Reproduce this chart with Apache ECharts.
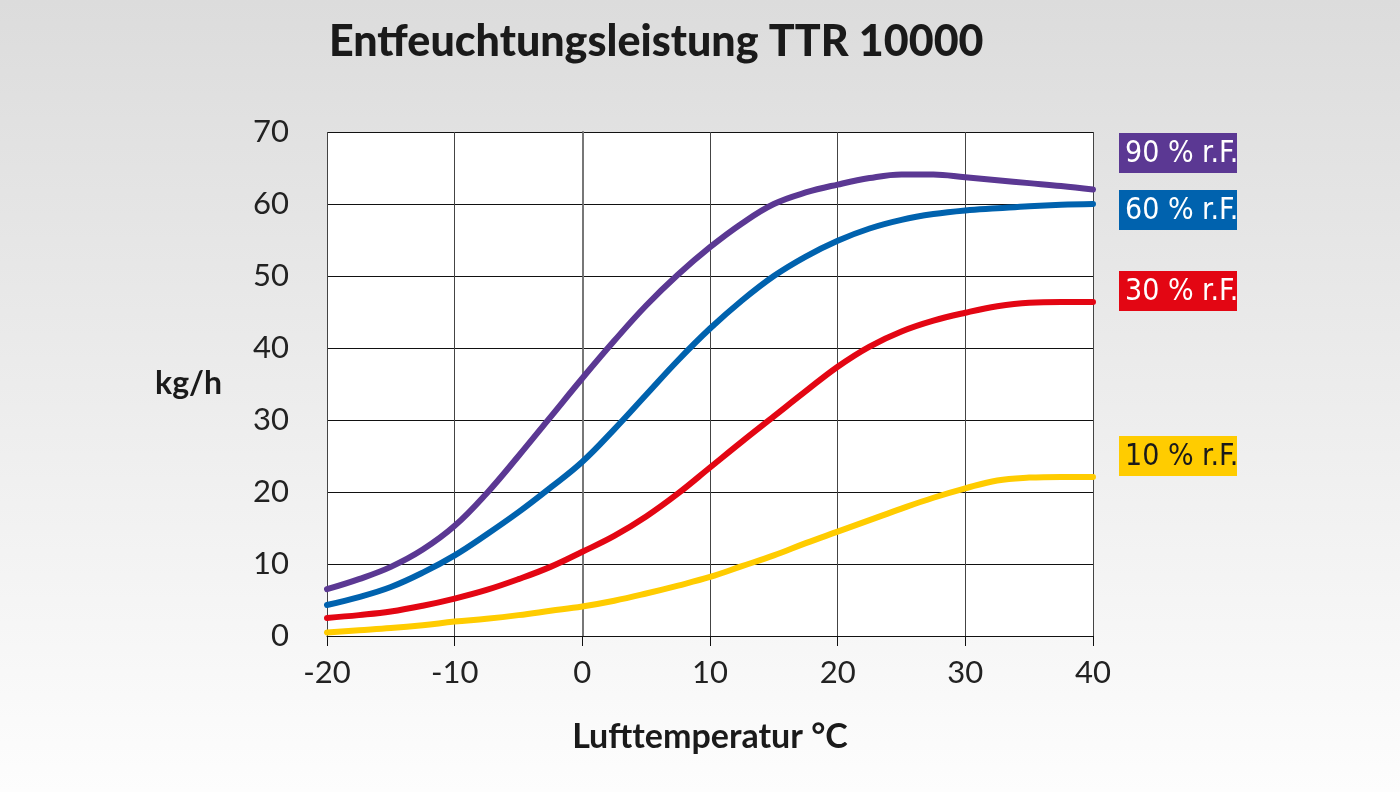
<!DOCTYPE html>
<html>
<head>
<meta charset="utf-8">
<title>Entfeuchtungsleistung TTR 10000</title>
<script src="https://cdn.jsdelivr.net/npm/echarts@6/dist/echarts.min.js"></script>
<style>
  html, body { margin: 0; padding: 0; }
  #chart { width: 1400px; height: 792px; }
</style>
</head>
<body>
<div id="chart"></div>
<script>
// Lufttemperatur in °C (Stützstellen alle 2,5 °C)
var temps = [-20, -17.5, -15, -12.5, -10, -7.5, -5, -2.5, 0, 2.5, 5, 7.5, 10,
             12.5, 15, 17.5, 20, 22.5, 25, 27.5, 30, 32.5, 35, 37.5, 40];

// Entfeuchtungsleistung in kg/h je relativer Feuchte
var rh90 = [6.5, 7.9, 9.6, 12.0, 15.3, 19.8, 25.0, 30.4, 35.8, 41.0, 45.9, 50.2, 54.0,
            57.3, 60.0, 61.6, 62.7, 63.6, 64.1, 64.1, 63.7, 63.3, 62.9, 62.5, 62.0];
var rh60 = [4.3, 5.4, 6.8, 8.8, 11.2, 14.1, 17.2, 20.6, 24.2, 28.7, 33.5, 38.3, 42.7,
            46.6, 50.0, 52.7, 54.9, 56.6, 57.8, 58.6, 59.1, 59.4, 59.7, 59.9, 60.0];
var rh30 = [2.5, 2.9, 3.4, 4.2, 5.2, 6.4, 7.9, 9.6, 11.7, 13.9, 16.6, 19.8, 23.4,
            27.0, 30.5, 34.0, 37.4, 40.2, 42.3, 43.8, 44.9, 45.8, 46.3, 46.4, 46.4];
var rh10 = [0.5, 0.8, 1.1, 1.5, 2.0, 2.4, 2.9, 3.5, 4.1, 4.9, 5.9, 7.0, 8.2,
            9.7, 11.2, 12.9, 14.5, 16.1, 17.7, 19.2, 20.5, 21.6, 22.0, 22.1, 22.1];

var seriesNames = ['90 % r.F.', '60 % r.F.', '30 % r.F.', '10 % r.F.'];
var seriesColors = ['#5b3893', '#0062ae', '#e30613', '#ffcc00'];
var xTicks = [-20, -10, 0, 10, 20, 30, 40];
var yTicks = [0, 10, 20, 30, 40, 50, 60, 70];

var values = [rh90, rh60, rh30, rh10];

function pairs(ys) {
    return temps.map(function (t, i) { return [t, ys[i]]; });
}

// Legendenkästchen rechts neben dem Diagramm
var boxTops = [133, 190, 271, 436];
var legendBoxes = seriesNames.map(function (name, i) {
    return {
        type: 'group',
        left: 1119,
        top: boxTops[i],
        children: [{
            type: 'rect',
            shape: { x: 0, y: 0, width: 118, height: 40 },
            style: { fill: seriesColors[i] }
        }, {
            type: 'text',
            x: 6,
            y: 21,
            style: {
                text: name,
                fill: i === 3 ? '#1a1a1a' : '#ffffff',
                font: '30px "Liberation Sans Narrow", "DejaVu Sans Condensed", sans-serif',
                verticalAlign: 'middle'
            }
        }]
    };
});

var chart = echarts.init(document.getElementById('chart'));

var option = {
    backgroundColor: new echarts.graphic.LinearGradient(0, 0, 0, 1, [
        { offset: 0, color: '#dcdcdc' },
        { offset: 1, color: '#fdfdfd' }
    ]),
    animation: false,
    title: {
        text: 'Entfeuchtungsleistung TTR 10000',
        left: 324,
        top: 16,
        textStyle: {
            fontFamily: 'Lato',
            fontWeight: 900,
            fontSize: 43,
            color: '#1a1a1a'
        }
    },
    grid: {
        left: 327,
        right: 307,
        top: 132,
        bottom: 156,
        show: true,
        backgroundColor: '#ffffff',
        borderWidth: 0
    },
    xAxis: {
        type: 'value',
        min: -20,
        max: 40,
        interval: 10,
        name: 'Lufttemperatur °C',
        nameLocation: 'middle',
        nameGap: 84,
        nameTextStyle: {
            fontFamily: 'Lato',
            fontWeight: 'bold',
            fontSize: 34,
            color: '#1a1a1a'
        },
        axisLine: { show: true, lineStyle: { color: '#111', width: 1 } },
        axisTick: { show: true, inside: false, length: 10, lineStyle: { color: '#111' } },
        axisLabel: {
            margin: 21,
            fontFamily: 'Lato',
            fontSize: 31,
            color: '#222',
            formatter: function (v) { return xTicks.indexOf(v) >= 0 ? String(v) : ''; }
        },
        splitLine: { show: true, lineStyle: { color: '#444', width: 1 } }
    },
    yAxis: {
        type: 'value',
        min: 0,
        max: 70,
        interval: 10,
        name: 'kg/h',
        nameLocation: 'middle',
        nameRotate: 0,
        nameGap: 105,
        nameTextStyle: {
            fontFamily: 'Lato',
            fontWeight: 'bold',
            fontSize: 32,
            color: '#1a1a1a'
        },
        axisLine: { show: true, lineStyle: { color: '#777', width: 2 } },
        axisTick: { show: true, inside: false, length: 10, lineStyle: { color: '#111' } },
        axisLabel: {
            margin: 38,
            fontFamily: 'Lato',
            fontSize: 31,
            color: '#222',
            formatter: function (v) { return yTicks.indexOf(v) >= 0 ? String(v) : ''; }
        },
        splitLine: { show: true, lineStyle: { color: '#111', width: 1 } }
    },
    series: values.map(function (ys, i) {
        return {
            name: seriesNames[i],
            type: 'line',
            data: pairs(ys),
            smooth: 0.4,
            showSymbol: false,
            clip: false,
            z: 10 - i,
            lineStyle: { color: seriesColors[i], width: 6, cap: 'round' }
        };
    }),
    graphic: legendBoxes
};

chart.setOption(option);
</script>
</body>
</html>
